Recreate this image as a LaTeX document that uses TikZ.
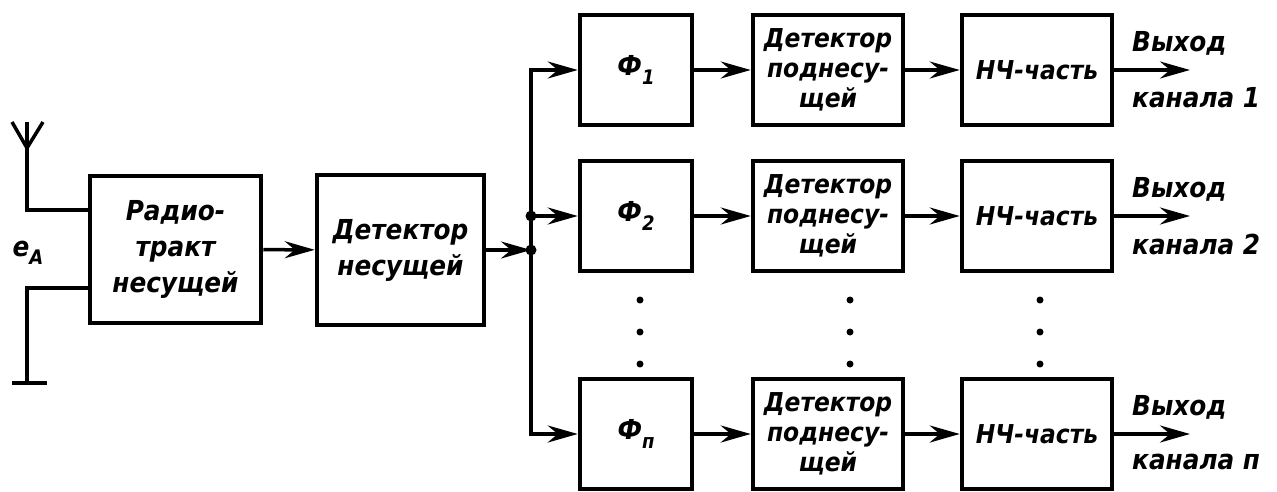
\documentclass[tikz,border=0pt]{standalone}
\usepackage{fontspec}
\setmainfont{DejaVu Sans Condensed}
\usetikzlibrary{arrows.meta}
\newcommand\bigf{\fontsize{27.5}{36}\selectfont\bfseries\itshape}
\newcommand\smf{\fontsize{26}{30}\selectfont\bfseries\itshape}
\newcommand\mysub[1]{\raisebox{-0.55ex}{\fontsize{20}{20}\selectfont #1}}
\begin{document}
\begin{tikzpicture}[x=1pt,y=-1pt]
\tikzset{
 blk/.style={draw, line width=4.5pt, inner sep=0pt, align=center, font=\bigf},
 con/.style={line width=3.5pt, -{Stealth[length=30pt,width=17pt,inset=10pt]}},
 wire/.style={line width=3.5pt},
 jdot/.style={circle, fill, inner sep=0pt, minimum size=11pt},
 edot/.style={circle, fill, inner sep=0pt, minimum size=7pt},
 lbl/.style={anchor=west, inner sep=0pt, font=\bigf}
}
\fill[white] (0,0) rectangle (1277,491);
\useasboundingbox (0,0) rectangle (1277,491);

% left part
\node[blk, minimum width=171pt, minimum height=147pt] (radio) at (175.5,249.5) {Радио-\\тракт\\несущей};
\node[blk, minimum width=167pt, minimum height=150pt] (detc) at (400.5,250) {Детектор\\несущей};
\draw[con] (radio) -- (detc);

% antenna and ground
\coordinate (atop) at (27,122);
\coordinate (aapex) at (27,148);
\coordinate (al) at (12,122);
\coordinate (ar) at (43,122);
\coordinate (a1) at (27,210);
\coordinate (g1) at (27,288);
\coordinate (g2) at (27,383);
\coordinate (gl) at (12,383);
\coordinate (gr) at (47,383);
\draw[wire] (atop) -- (a1) -- (a1 -| radio.west);
\draw[wire, line join=miter] (al) -- (aapex) -- (ar);
\draw[wire] (g1 -| radio.west) -- (g1) -- (g2);
\draw[wire] (gl) -- (gr);
\node[font=\bigf] (ea) at (28,253) {e\mysub{A}};

% rows
\foreach \r/\y/\s in {1/70/1, 2/216/2, n/434/п}{
 \node[blk, minimum width=112pt, minimum height=110pt] (f\r) at (636,\y) {Ф\mysub{\s}};
 \node[blk, minimum width=150pt, minimum height=110pt, font=\smf] (d\r) at (828,\y) {Детектор\\поднесу-\\щей};
 \node[blk, minimum width=150pt, minimum height=110pt, font=\smf] (h\r) at (1037,\y) {НЧ-часть};
 \coordinate (o\r) at (1190,\y);
 \draw[con] (f\r) -- (d\r);
 \draw[con] (d\r) -- (h\r);
 \draw[con] (h\r) -- (o\r);
 \node[lbl] (vy\r) at (1132,\y-27) {Выход};
 \node[lbl] (ka\r) at (1132,\y+28) {канала \s};
}

% bus
\coordinate (jb) at (531,250);
\coordinate (j2) at (531,216);
\draw[con] (detc) -- (jb);
\draw[con] (jb) |- (f1);
\draw[con] (jb) |- (fn);
\draw[con] (j2) -- (f2);
\node[jdot] (djb) at (jb) {};
\node[jdot] (dj2) at (j2) {};

% ellipsis dots
\foreach \x in {640,850,1040}{
 \foreach \yy in {300,332,364}{
  \node[edot] at (\x,\yy) {};
 }
}
\end{tikzpicture}
\end{document}
